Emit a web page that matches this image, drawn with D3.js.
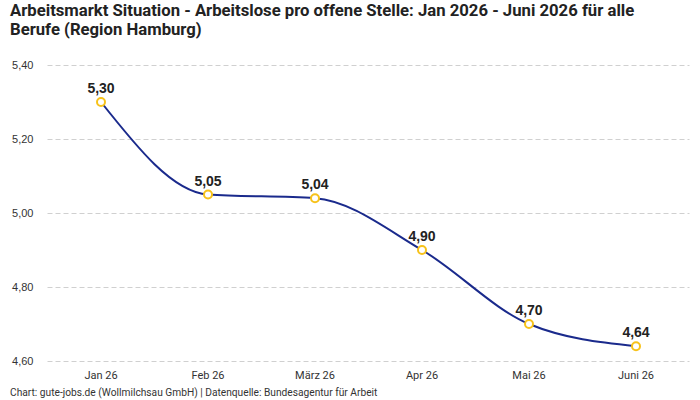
<!DOCTYPE html>
<meta charset="utf-8">
<style>
body { margin: 0; background: #fff; }
text { font-family: "Roboto", "Noto Sans", sans-serif; }
.title { font-size: 16.7px; font-weight: bold; fill: #222; }
.grid line { stroke: #d0d0d0; stroke-dasharray: 5,3; }
.grid .tick text { font-size: 11px; fill: #333; font-family: "Liberation Sans", Arial, sans-serif; }
.xax .tick text { font-size: 11px; fill: #333; }
.lbl { font-size: 14px; font-weight: bold; fill: #222; font-family: "Liberation Sans", Arial, sans-serif; }
.foot { font-size: 10.2px; fill: #333; }
</style>
<body>
<svg width="700" height="400"></svg>
<script src="https://d3js.org/d3.v7.min.js"></script>
<script>

var months = ["Jan 26", "Feb 26", "März 26", "Apr 26", "Mai 26", "Juni 26"];
var values = [5.30, 5.05, 5.04, 4.90, 4.70, 4.64];
var yTicks = [4.6, 4.8, 5.0, 5.2, 5.4];

var svg = d3.select("svg");
var fmt = function(v) { return d3.format(".2f")(v).replace(".", ","); };

var x = d3.scaleBand().domain(months).range([47.5, 689.5]);
var y = d3.scaleLinear().domain([4.6, 5.4]).range([361, 65]);

// title
svg.append("text").attr("class", "title").attr("x", 10).attr("y", 16).text("Arbeitsmarkt Situation - Arbeitslose pro offene Stelle: Jan 2026 - Juni 2026 für alle");
svg.append("text").attr("class", "title").attr("x", 10).attr("y", 35).text("Berufe (Region Hamburg)");

// y grid + labels
var yAxis = svg.append("g")
    .attr("class", "grid")
    .attr("transform", "translate(47.5,0)")
    .call(d3.axisLeft(y).tickValues(yTicks).tickSize(-642).tickPadding(14).tickFormat(fmt));
yAxis.select(".domain").remove();

// x labels
var xAxis = svg.append("g")
    .attr("class", "xax")
    .attr("transform", "translate(0,361)")
    .call(d3.axisBottom(x).tickSize(0).tickPadding(10));
xAxis.select(".domain").remove();

var line = d3.line()
    .x(function(d, i) { return x(months[i]) + x.bandwidth() / 2; })
    .y(function(d) { return y(d); })
    .curve(d3.curveMonotoneX);

svg.append("path")
    .datum(values)
    .attr("d", line)
    .attr("fill", "none")
    .attr("stroke", "#1a2a8c")
    .attr("stroke-width", 2);

svg.selectAll("circle.pt")
    .data(values)
  .enter().append("circle")
    .attr("class", "pt")
    .attr("cx", function(d, i) { return x(months[i]) + x.bandwidth() / 2; })
    .attr("cy", function(d) { return y(d); })
    .attr("r", 4)
    .attr("fill", "#fff")
    .attr("stroke", "#f7c21a")
    .attr("stroke-width", 2);

svg.selectAll("text.lbl")
    .data(values)
  .enter().append("text")
    .attr("class", "lbl")
    .attr("text-anchor", "middle")
    .attr("x", function(d, i) { return x(months[i]) + x.bandwidth() / 2; })
    .attr("y", function(d) { return y(d) - 9; })
    .text(fmt);

svg.append("text").attr("class", "foot").attr("x", 10).attr("y", 396)
    .text("Chart: gute-jobs.de (Wollmilchsau GmbH) | Datenquelle: Bundesagentur für Arbeit");

</script>
</body>
